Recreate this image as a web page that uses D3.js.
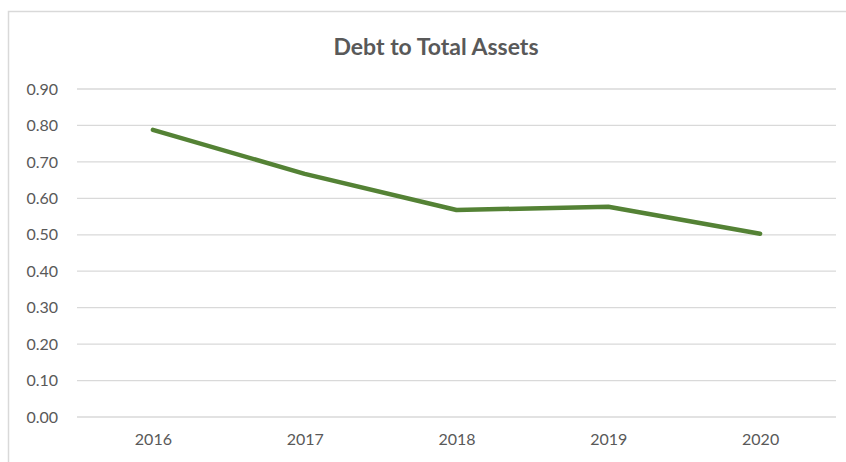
<!doctype html>
<html>
<head>
<script src="https://d3js.org/d3.v7.min.js"></script>
<style>
  body { margin: 0; background: #fff; }
  text { font-family: Lato, "Open Sans", sans-serif; fill: #595959; }
</style>
</head>
<body>
<svg width="846" height="462"></svg>
<script>
// data
var years = ["2016", "2017", "2018", "2019", "2020"];
var debtRatio = [0.788, 0.667, 0.568, 0.577, 0.503];
var yTicks = [0, 0.1, 0.2, 0.3, 0.4, 0.5, 0.6, 0.7, 0.8, 0.9];

var svg = d3.select("svg");

// chart border (runs off right/bottom edge like the original)
svg.append("rect")
  .attr("x", 8.5).attr("y", 11.5)
  .attr("width", 850).attr("height", 470)
  .style("fill", "#fff")
  .style("stroke", "#d9d9d9")
  .style("stroke-width", 1.5);

var plotLeft = 77, plotRight = 836, plotTop = 89, plotBottom = 417;

var x = d3.scalePoint().domain(years).range([plotLeft, plotRight]).padding(0.5);
var y = d3.scaleLinear().domain([0, 0.9]).range([plotBottom, plotTop]);

// gridlines
svg.append("g")
  .selectAll("line")
  .data(yTicks)
  .enter().append("line")
  .attr("x1", plotLeft).attr("x2", plotRight)
  .attr("y1", function(d) { return y(d); })
  .attr("y2", function(d) { return y(d); })
  .style("stroke", "#d9d9d9")
  .style("stroke-width", 1.3);

// y axis labels
var yAxis = svg.append("g")
  .attr("transform", "translate(" + plotLeft + ",0)")
  .call(d3.axisLeft(y).tickValues(yTicks).tickFormat(d3.format(".2f")).tickSize(0).tickPadding(19));
yAxis.select(".domain").remove();
yAxis.selectAll("text").style("font-size", "16px").style("fill", "#595959");

// x axis labels
var xAxis = svg.append("g")
  .attr("transform", "translate(0," + plotBottom + ")")
  .call(d3.axisBottom(x).tickSize(0).tickPadding(17));
xAxis.select(".domain").remove();
xAxis.selectAll("text").style("font-size", "16px").style("fill", "#595959");

// title
svg.append("text")
  .attr("x", 436).attr("y", 55)
  .attr("text-anchor", "middle")
  .style("font-size", "23px")
  .style("font-weight", "bold")
  .text("Debt to Total Assets");

// line
var line = d3.line()
  .x(function(d, i) { return x(years[i]); })
  .y(function(d) { return y(d); });

svg.append("path")
  .datum(debtRatio)
  .attr("d", line)
  .style("fill", "none")
  .style("stroke", "#548235")
  .style("stroke-width", 4.5)
  .style("stroke-linecap", "round")
  .style("stroke-linejoin", "round");
</script>
</body>
</html>
